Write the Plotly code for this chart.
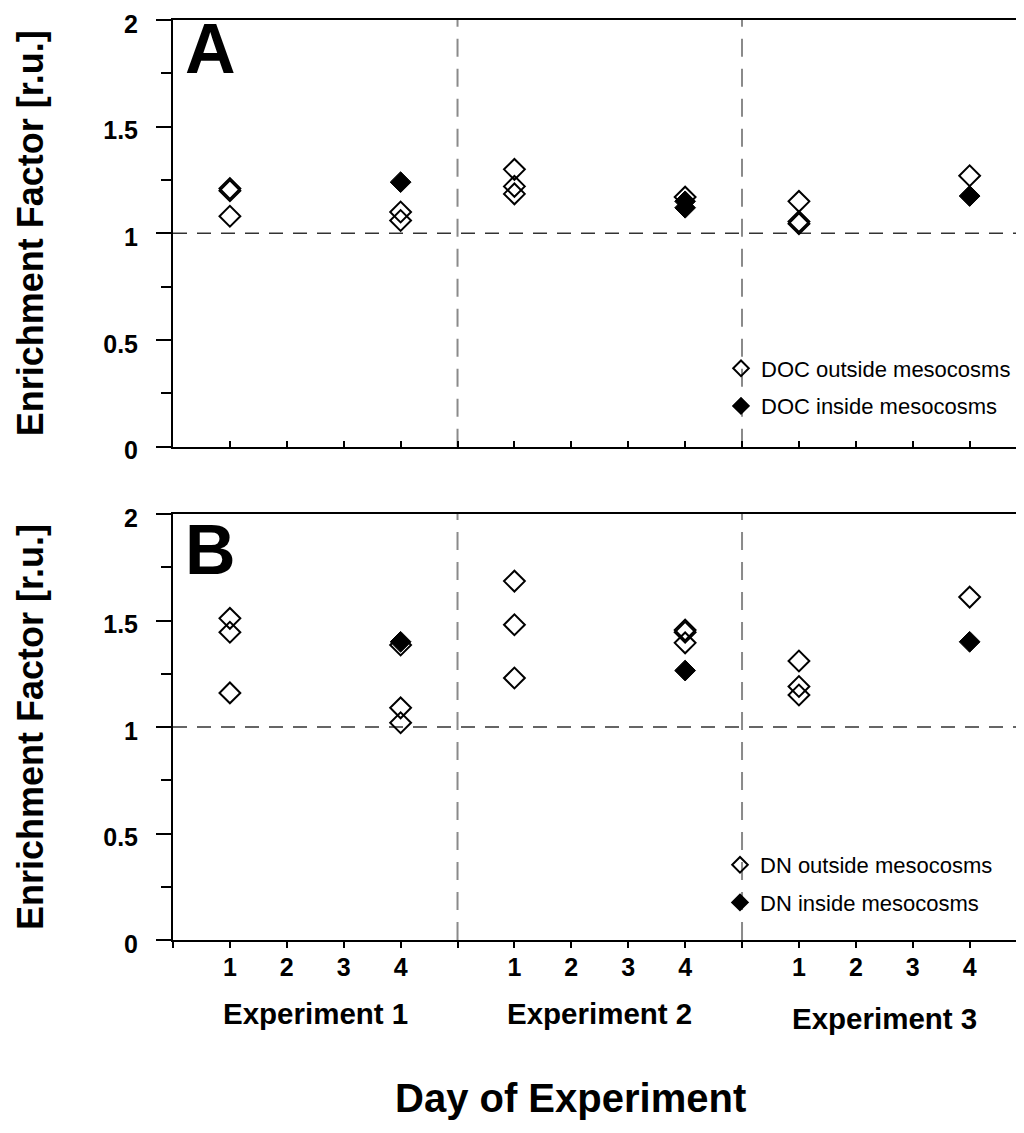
import plotly.graph_objects as go

# ---------------- data ----------------
# Panel A : DOC enrichment factors (experiment, day, value)
doc_out_exp = [1, 1, 1, 1, 1, 2, 2, 2, 2, 3, 3, 3, 3]
doc_out_day = [1, 1, 1, 4, 4, 1, 1, 1, 4, 1, 1, 1, 4]
doc_out_val = [1.21, 1.20, 1.08, 1.10, 1.06, 1.30, 1.22, 1.185, 1.17, 1.15, 1.055, 1.045, 1.27]

doc_in_exp = [1, 2, 2, 3]
doc_in_day = [4, 4, 4, 4]
doc_in_val = [1.24, 1.15, 1.12, 1.175]

# Panel B : DN enrichment factors
dn_out_exp = [1, 1, 1, 1, 1, 1, 2, 2, 2, 2, 2, 2, 3, 3, 3, 3]
dn_out_day = [1, 1, 1, 4, 4, 4, 1, 1, 1, 4, 4, 4, 1, 1, 1, 4]
dn_out_val = [1.51, 1.445, 1.16, 1.385, 1.09, 1.02, 1.685, 1.48, 1.23, 1.455, 1.445, 1.395,
              1.31, 1.19, 1.15, 1.61]

dn_in_exp = [1, 2, 3]
dn_in_day = [4, 4, 4]
dn_in_val = [1.40, 1.265, 1.40]

experiments = ["Experiment 1", "Experiment 2", "Experiment 3"]
days = [1, 2, 3, 4]
y_ticks = [0, 0.5, 1, 1.5, 2]
y_minor = [0.25, 0.75, 1.25, 1.75]
reference_level = 1.0

# ---------------- helpers ----------------
GAP = 5  # slots per experiment (4 days + separator)


def xpos(exps, ds):
    return [(e - 1) * GAP + d for e, d in zip(exps, ds)]


tickvals = list(range(0, GAP * len(experiments)))
ticktext = []
for v in tickvals:
    r = v % GAP
    ticktext.append("<b>%d</b>" % r if r in days else "")
separators = [GAP * i for i in range(1, len(experiments))]

FONT = "Liberation Sans, Arial, sans-serif"
OFF = 8                      # page body margin
W, H = 1024 - OFF, 1133 - OFF
XMAX = 14.92


def px(p):  # page x -> paper fraction
    return (p - OFF) / W


def py(p):  # page y -> paper fraction
    return 1 - (p - OFF) / H


XL, XR = 173, 1022
A_TOP, A_BOT = 20, 446.7
B_TOP, B_BOT = 514, 940

fig = go.Figure()

open_marker = dict(symbol="diamond-open", size=16, color="black", line=dict(width=2, color="black"))
fill_marker = dict(symbol="diamond", size=16, color="black", line=dict(width=1, color="black"))

fig.add_trace(go.Scatter(x=xpos(doc_out_exp, doc_out_day), y=doc_out_val, mode="markers",
                         marker=open_marker, name="DOC outside mesocosms", xaxis="x", yaxis="y",
                         legend="legend", legendgroup="a1"))
fig.add_trace(go.Scatter(x=xpos(doc_in_exp, doc_in_day), y=doc_in_val, mode="markers",
                         marker=fill_marker, name="DOC inside mesocosms", xaxis="x", yaxis="y",
                         legend="legend", legendgroup="a2"))
fig.add_trace(go.Scatter(x=xpos(dn_out_exp, dn_out_day), y=dn_out_val, mode="markers",
                         marker=open_marker, name="DN outside mesocosms", xaxis="x2", yaxis="y2",
                         legend="legend2", legendgroup="b1"))
fig.add_trace(go.Scatter(x=xpos(dn_in_exp, dn_in_day), y=dn_in_val, mode="markers",
                         marker=fill_marker, name="DN inside mesocosms", xaxis="x2", yaxis="y2",
                         legend="legend2", legendgroup="b2"))

xdom = [px(XL), px(XR)]
common_x = dict(range=[0, XMAX], domain=xdom, showgrid=False, zeroline=False, automargin=False,
                showline=True, linecolor="black", linewidth=2, mirror=True,
                tickmode="array", tickvals=tickvals, ticktext=ticktext,
                tickcolor="black", tickwidth=2, ticklen=6, ticklabeloverflow="allow")
common_y = dict(range=[0, 2], showgrid=False, zeroline=False, showline=True, automargin=False,
                linecolor="black", linewidth=2, ticks="outside", ticklen=15, tickwidth=2,
                tickcolor="black", tickmode="array", tickvals=y_ticks,
                ticktext=["<b>%g</b>" % v for v in y_ticks], ticklabeloverflow="allow",
                tickfont=dict(family=FONT, size=25, color="black"), ticklabelstandoff=13,
                ticklabelshift=4,
                minor=dict(tickmode="array", tickvals=y_minor, ticks="outside",
                           ticklen=10, tickwidth=2, tickcolor="black"))

fig.update_layout(
    width=W, height=H, margin=dict(l=0, r=0, t=0, b=0, autoexpand=False),
    paper_bgcolor="white", plot_bgcolor="white",
    xaxis=dict(common_x, anchor="y", ticks="inside", showticklabels=False),
    yaxis=dict(common_y, domain=[py(A_BOT), py(A_TOP)], anchor="x"),
    xaxis2=dict(common_x, anchor="y2", ticks="outside", showticklabels=True,
                tickfont=dict(family=FONT, size=25, color="black"), ticklabelstandoff=-2),
    yaxis2=dict(common_y, domain=[py(B_BOT), py(B_TOP)], anchor="x2"),
    legend=dict(x=px(721), y=py(387.5), xanchor="left", yanchor="middle",
                font=dict(family=FONT, size=22, color="black"), bgcolor="rgba(0,0,0,0)",
                tracegroupgap=6, itemsizing="constant"),
    legend2=dict(x=px(720), y=py(884), xanchor="left", yanchor="middle",
                 font=dict(family=FONT, size=22, color="black"), bgcolor="rgba(0,0,0,0)",
                 tracegroupgap=6, itemsizing="constant"),
    showlegend=True,
)

shapes = []
for xr, yr in (("x", "y"), ("x2", "y2")):
    shapes.append(dict(type="line", xref=xr, yref=yr, x0=0, x1=XMAX, y0=reference_level,
                       y1=reference_level, line=dict(color="#333333", width=1.5, dash="14px,10px"),
                       layer="below"))
    for s in separators:
        shapes.append(dict(type="line", xref=xr, yref=yr, x0=s, x1=s, y0=0, y1=2,
                           line=dict(color="#8a8a8a", width=2, dash="18px,12px"), layer="below"))
fig.update_layout(shapes=shapes)

ann = []
for i, name in enumerate(experiments):
    ann.append(dict(text="<b>%s</b>" % name, xref="x2", yref="paper",
                    x=i * GAP + 2.5, y=py(1013 + (5 if i == 2 else 0)), showarrow=False,
                    xanchor="center", yanchor="middle",
                    font=dict(family=FONT, size=29.5, color="black")))
ann.append(dict(text="<b>Day of Experiment</b>", xref="paper", yref="paper", x=px(570),
                y=py(1098), showarrow=False, xanchor="center", yanchor="middle",
                font=dict(family=FONT, size=40, color="black")))
for yc in ((A_TOP + A_BOT) / 2, (B_TOP + B_BOT) / 2):
    ann.append(dict(text="<b>Enrichment Factor [r.u.]</b>", xref="paper", yref="paper",
                    x=px(30), y=py(yc), textangle=-90, showarrow=False,
                    xanchor="center", yanchor="middle",
                    font=dict(family=FONT, size=36, color="black")))
for letter, yc in (("A", 49.5), ("B", 550)):
    ann.append(dict(text="<b>%s</b>" % letter, xref="paper", yref="paper", x=px(183), y=py(yc),
                    showarrow=False, xanchor="left", yanchor="middle",
                    font=dict(family=FONT, size=70, color="black")))
fig.update_layout(annotations=ann)

fig.write_html("out.html")
